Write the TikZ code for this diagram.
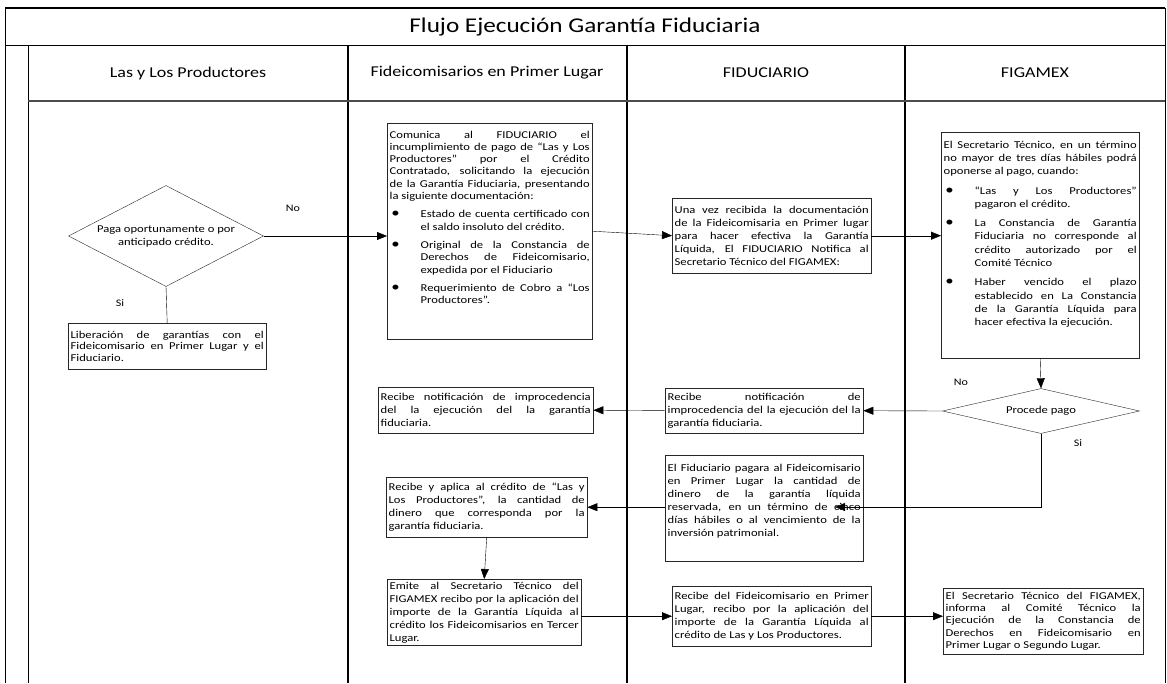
\documentclass[tikz,border=0pt]{standalone}
\usepackage{fontspec}
\setmainfont{Carlito}[FakeStretch=1.2]
\usetikzlibrary{positioning,shapes.geometric,arrows.meta}
\tolerance=10000
\hbadness=10000
\hyphenpenalty=10000
\exhyphenpenalty=10000
\newenvironment{vinetas}{\begin{list}{\fontsize{14}{14}\selectfont\textbullet}{%
  \setlength{\leftmargin}{31pt}\setlength{\labelwidth}{10pt}%
  \setlength{\labelsep}{21pt}\setlength{\itemsep}{6pt}%
  \setlength{\itemindent}{0pt}\setlength{\listparindent}{0pt}%
  \setlength{\topsep}{6pt}\setlength{\parsep}{0pt}\setlength{\partopsep}{0pt}}}%
  {\end{list}}
\newcommand{\relleno}[1]{\par\vspace{#1}\hrule height 0pt width 0pt}

\begin{document}
\begin{tikzpicture}[x=1pt, y=-1pt,
    caja/.style 2 args={rectangle, draw=black!85, anchor=north west, align=justify, inner sep=2.5pt, text width=#1, minimum height=#2, font=\fontsize{10.5}{13}\selectfont},
    rombo/.style 2 args={diamond, draw=black!85, inner sep=0pt, minimum width=#1, minimum height=#2, align=center, font=\fontsize{10.5}{13}\selectfont},
    carril/.style={font=\fontsize{15}{18}\selectfont},
    etiqueta/.style={font=\fontsize{10}{12}\selectfont}
  ]
  \useasboundingbox (0,0) rectangle (1167,683);
  % marco y carriles
  \draw[line width=1.8pt] (5,8) -- (1165,8);
  \draw[line width=1pt] (5,8) -- (5,683) (1165,8) -- (1165,683);
  \draw[line width=1pt] (5,45) -- (1165,45);
  \draw[line width=1pt] (28,45) -- (28,683);
  \foreach \x in {348,627,905}
    \draw[line width=1.2pt] (\x,45) -- (\x,683);
  \draw[line width=2pt, black!70] (28,101) -- (1165,101);
  \node (titulo) at (585,27) {\fontsize{21}{25}\selectfont Flujo Ejecución Garantía Fiduciaria};
  \node[carril] (prod) at (188,73) {Las y Los Productores};
  \node[carril] (fpl) at (487,73) {Fideicomisarios en Primer Lugar};
  \node[carril] (fid) at (766,73) {FIDUCIARIO};
  \node[carril] (figa) at (1035,73) {FIGAMEX};

  % nodos
  \node[rombo={195pt}{101pt}, aspect=1.93] (paga) at (166,236) {Paga oportunamente o por\\anticipado crédito.};
  \node[caja={193pt}{46pt}, font=\fontsize{10.5}{11.5}\selectfont] (libera) at (68,323) {Liberación de garantías con el\linebreak Fideicomisario en Primer Lugar y el\linebreak Fiduciario.};
  \node[caja={200pt}{216pt}, font=\fontsize{10.5}{12.3}\selectfont] (comunica) at (387,123) {Comunica al FIDUCIARIO el\linebreak incumplimiento de pago de “Las y Los\linebreak Productores” por el Crédito\linebreak Contratado, solicitando la ejecución\linebreak de la Garantía Fiduciaria, presentando\linebreak la siguiente documentación:
    \begin{vinetas}
      \item Estado de cuenta certificado con\linebreak el saldo insoluto del crédito.
      \item Original de la Constancia de\linebreak Derechos de Fideicomisario,\linebreak expedida por el Fiduciario
      \item Requerimiento de Cobro a “Los\linebreak Productores”.
    \end{vinetas}\relleno{22pt}};
  \node[caja={194pt}{75pt}] (recibida) at (672,198) {Una vez recibida la documentación\linebreak de la Fideicomisaria en Primer lugar\linebreak para hacer efectiva la Garantía\linebreak Líquida, El FIDUCIARIO Notifica al\linebreak Secretario Técnico del FIGAMEX:};
  \node[caja={193pt}{226pt}, font=\fontsize{10.5}{13.3}\selectfont] (secretario) at (941,132) {El Secretario Técnico, en un término\linebreak no mayor de tres días hábiles podrá\linebreak oponerse al pago, cuando:
    \begin{vinetas}
      \item “Las y Los Productores”\linebreak pagaron el crédito.
      \item La Constancia de Garantía\linebreak Fiduciaria no corresponde al\linebreak crédito autorizado por el\linebreak Comité Técnico
      \item Haber vencido el plazo\linebreak establecido en La Constancia\linebreak de la Garantía Líquida para\linebreak hacer efectiva la ejecución.
    \end{vinetas}\relleno{16pt}};
  \node[rombo={197pt}{45pt}, aspect=4.4] (procede) at (1041,411) {Procede pago};
  \node[caja={193pt}{45pt}] (notifid) at (665,388) {Recibe notificación de\linebreak improcedencia del la ejecución del la\linebreak garantía fiduciaria.};
  \node[caja={210pt}{46pt}] (notifpl) at (378,387) {Recibe notificación de improcedencia\linebreak del la ejecución del la garantía\linebreak fiduciaria.};
  \node[caja={193pt}{106pt}] (pagara) at (665,455) {El Fiduciario pagara al Fideicomisario\linebreak en Primer Lugar la cantidad de\linebreak dinero de la garantía líquida\linebreak reservada, en un término de cinco\linebreak días hábiles o al vencimiento de la\linebreak inversión patrimonial.\relleno{14pt}};
  \node[caja={196pt}{60pt}] (aplica) at (386,477) {Recibe y aplica al crédito de “Las y\linebreak Los Productores”, la cantidad de\linebreak dinero que corresponda por la\linebreak garantía fiduciaria.};
  \node[caja={189pt}{65pt}] (emite) at (387,579) {Emite al Secretario Técnico del\linebreak FIGAMEX recibo por la aplicación del\linebreak importe de la Garantía Líquida al\linebreak crédito los Fideicomisarios en Tercer\linebreak Lugar.};
  \node[caja={194pt}{60pt}] (recibo) at (672,586) {Recibe del Fideicomisario en Primer\linebreak Lugar, recibo por la aplicación del\linebreak importe de la Garantía Líquida al\linebreak crédito de Las y Los Productores.};
  \node[caja={195pt}{66pt}, font=\fontsize{10.5}{12.4}\selectfont] (informa) at (943,588) {El Secretario Técnico del FIGAMEX,\linebreak informa al Comité Técnico la\linebreak Ejecución de la Constancia de\linebreak Derechos en Fideicomisario en\linebreak Primer Lugar o Segundo Lugar.};
  \coordinate (cinco) at (835,507);

  \node[etiqueta] (no1) at (293,208) {No};
  \node[etiqueta] (si1) at (120,303) {Si};
  \node[etiqueta] (no2) at (961,382) {No};
  \node[etiqueta] (si2) at (1078,443) {Si};

  % conectores
  \draw (paga.south) -- (libera.north);
  \begin{scope}[-{Triangle[length=10pt,width=8pt]}]
  \draw (paga.east) -- (paga.east -| comunica.west);
  \draw (comunica.east) -- (recibida.west);
  \draw (recibida.east) -- (recibida.east -| secretario.west);
  \draw (secretario.south) -- (procede.north);
  \draw (procede.west) -- (notifid.east);
  \draw (notifid.west) -- (notifpl.east);
  \draw (procede.south) |- (cinco);
  \draw (pagara.west |- aplica.east) -- (aplica.east);
  \draw (aplica.south) -- (emite.north);
  \draw (emite.east |- recibo.west) -- (recibo.west);
  \draw (recibo.east) -- (recibo.east -| informa.west);
  \end{scope}
\end{tikzpicture}
\end{document}
